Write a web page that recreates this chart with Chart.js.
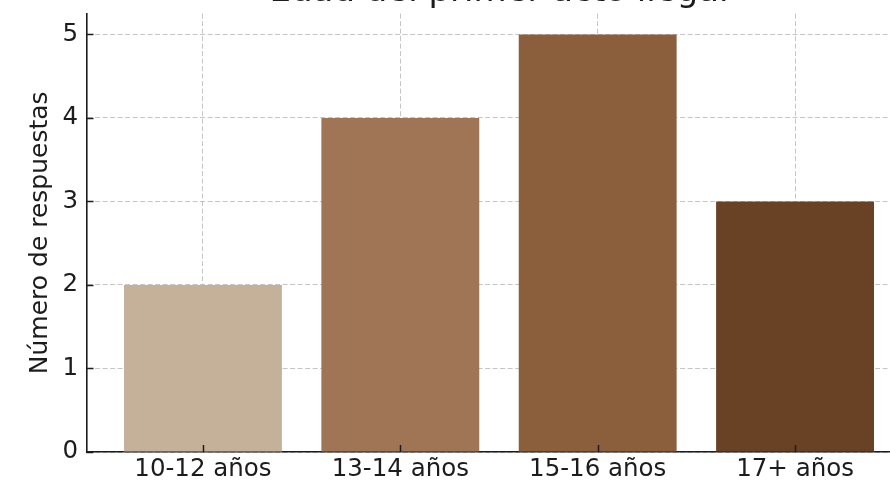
<!DOCTYPE html>
<html>
<head>
<meta charset="utf-8">
<script src="https://cdn.jsdelivr.net/npm/chart.js@4/dist/chart.umd.min.js"></script>
<style>
  html, body { margin: 0; padding: 0; width: 890px; height: 481px; overflow: hidden; background: #fff; }
  #wrap { position: absolute; left: 0; top: -40px; width: 960px; height: 521px; }
  canvas { display: block; }
</style>
</head>
<body>
<div id="wrap"><canvas id="c" width="960" height="521" style="width:960px;height:521px"></canvas></div>
<script>
const titleText = "Edad del primer acto ilegal";
const yAxisTitle = "Número de respuestas";
const categories = ["10-12 años", "13-14 años", "15-16 años", "17+ años"];
const counts = [2, 4, 5, 3];
const barColors = ["#C5B09A", "#A07556", "#8B5E3C", "#694225"];
const yTickValues = [0, 1, 2, 3, 4, 5];

const FONT = "'DejaVu Sans', 'Liberation Sans', sans-serif";
const INK = "#1c1c1c";
const GRID = 'rgba(150,150,150,0.55)';

const inwardTicks = {
  id: 'inwardTicks',
  afterDraw(chart) {
    const ctx = chart.ctx;
    const x = chart.scales.x, y = chart.scales.y;
    const area = chart.chartArea;
    ctx.save();
    ctx.strokeStyle = INK;
    ctx.lineWidth = 1.5;
    ctx.beginPath();
    yTickValues.forEach(v => {
      const py = Math.round(y.getPixelForValue(v)) + 0.5;
      ctx.moveTo(area.left, py);
      ctx.lineTo(area.left + 7, py);
    });
    categories.forEach((c, i) => {
      const px = Math.round(x.getPixelForValue(i)) + 0.5;
      ctx.moveTo(px, area.bottom);
      ctx.lineTo(px, area.bottom - 7);
    });
    ctx.stroke();
    ctx.restore();
  }
};

new Chart(document.getElementById('c'), {
  type: 'bar',
  data: {
    datasets: [{
      data: counts.map((v, i) => ({ x: i, y: v })),
      backgroundColor: barColors,
      borderWidth: 0,
      categoryPercentage: 1,
      barPercentage: 0.8
    }]
  },
  options: {
    responsive: false,
    animation: false,
    devicePixelRatio: 1,
    layout: { padding: { top: 0, right: 48.5, bottom: 0, left: 0 } },
    plugins: {
      legend: { display: false },
      tooltip: { enabled: false },
      title: {
        display: true,
        text: titleText,
        fullSize: false,
        color: INK,
        font: { family: FONT, size: 34, weight: 'normal', lineHeight: 1.2 },
        padding: { top: 11.8, bottom: 1.0 }
      }
    },
    scales: {
      x: {
        type: 'linear',
        min: -0.59,
        max: 3.59,
        offset: false,
        z: 1,
        afterBuildTicks(s) { s.ticks = categories.map((c, i) => ({ value: i })); },
        afterFit(s) { s.height = 29; },
        ticks: {
          callback: (v) => categories[v] ?? '',
          color: INK,
          font: { family: FONT, size: 24.5 },
          padding: 3,
          maxRotation: 0,
          autoSkip: false
        },
        grid: { offset: false, color: GRID, lineWidth: 1, drawTicks: false },
        border: { display: true, color: INK, width: 1.6, dash: [5, 2.5] }
      },
      y: {
        type: 'linear',
        min: 0,
        max: 5.25,
        z: 1,
        afterBuildTicks(s) { s.ticks = yTickValues.map(v => ({ value: v })); },
        afterFit(s) { s.width = 86.5; },
        ticks: {
          color: INK,
          font: { family: FONT, size: 24.5 },
          padding: 8.5
        },
        grid: { color: GRID, lineWidth: 1, drawTicks: false },
        border: { display: true, color: INK, width: 1.6, dash: [5, 2.5] },
        title: {
          display: true,
          text: yAxisTitle,
          color: INK,
          font: { family: FONT, size: 25 },
          padding: { top: 25, bottom: 0 }
        }
      }
    }
  },
  plugins: [inwardTicks]
});
</script>
</body>
</html>
